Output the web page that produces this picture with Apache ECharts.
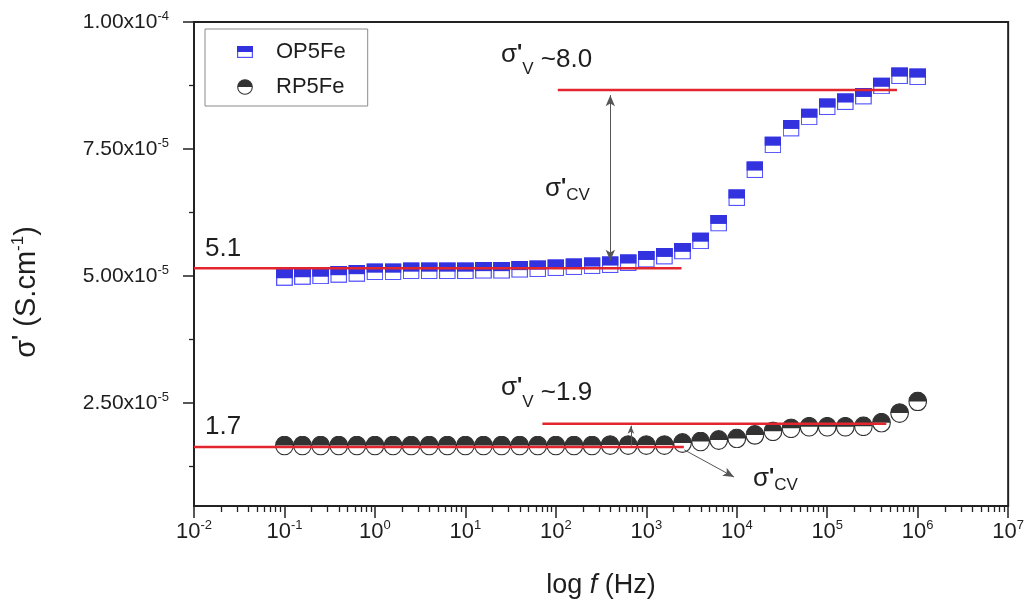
<!DOCTYPE html>
<html><head><meta charset="utf-8">
<script src="https://cdn.jsdelivr.net/npm/echarts@6/dist/echarts.min.js"></script>
<style>html,body{margin:0;padding:0;background:#fff}#c{width:1027px;height:609px}</style>
</head><body><div id="c"></div>
<script>
// ---------- data ----------
const freqHz = [0.1,0.158,0.251,0.398,0.631,1,1.585,2.512,3.981,6.31,10,15.85,25.12,39.81,63.1,100,158.5,251.2,398.1,631,1000,1585,2512,3981,6310,10000,15850,25120,39810,63100,100000,158500,251200,398100,631000,1000000];
const op5fe = [4.97e-5,4.99e-5,5.00e-5,5.03e-5,5.05e-5,5.08e-5,5.08e-5,5.10e-5,5.10e-5,5.10e-5,5.10e-5,5.11e-5,5.11e-5,5.13e-5,5.14e-5,5.16e-5,5.18e-5,5.20e-5,5.22e-5,5.26e-5,5.33e-5,5.39e-5,5.49e-5,5.69e-5,6.04e-5,6.54e-5,7.09e-5,7.58e-5,7.91e-5,8.13e-5,8.33e-5,8.43e-5,8.54e-5,8.74e-5,8.94e-5,8.92e-5];
const rp5fe = [1.66e-5,1.66e-5,1.66e-5,1.66e-5,1.66e-5,1.66e-5,1.66e-5,1.66e-5,1.66e-5,1.66e-5,1.66e-5,1.66e-5,1.66e-5,1.66e-5,1.66e-5,1.66e-5,1.66e-5,1.66e-5,1.67e-5,1.67e-5,1.67e-5,1.67e-5,1.71e-5,1.74e-5,1.77e-5,1.80e-5,1.87e-5,1.94e-5,2.00e-5,2.03e-5,2.03e-5,2.03e-5,2.04e-5,2.11e-5,2.30e-5,2.53e-5];
// red guide lines [fStart, fEnd, value]
const lineOP_dc = [0.01, 2450, 5.15e-5];
const lineOP_hf = [105, 590000, 8.66e-5];
const lineRP_dc = [0.01, 2600, 1.63e-5];
const lineRP_hf = [71, 450000, 2.09e-5];
// grey arrows [[f1, v1], [f2, v2]]
const arrowOP = [[400, 8.56e-5], [400, 5.30e-5]];
const arrowRP = [[676, 1.66e-5], [676, 2.05e-5]];
const arrowRPcv = [[2630, 1.575e-5], [9330, 1.04e-5]];
// axes
const xTickExp = [-2,-1,0,1,2,3,4,5,6,7];
const yTickValues = [2.5e-5, 5.0e-5, 7.5e-5, 1.0e-4];
const yTickLabels = [['2.50x10','-5'],['5.00x10','-5'],['7.50x10','-5'],['1.00x10','-4']];
const yMinorValues = [1.25e-5, 3.75e-5, 6.25e-5, 8.75e-5];
const minorMult = [2,3,4,5,6,7,8,9];

// ---------- helpers ----------
const L = Math.log10;
const FONT = '"Liberation Sans", Arial, Helvetica, sans-serif';
const TXT = '#1e1e1e';
const RED = '#e3262d';
const svgURL = s => 'image://data:image/svg+xml;charset=utf-8,' + encodeURIComponent(s);
const sqSym = svgURL('<svg xmlns="http://www.w3.org/2000/svg" width="68" height="68" viewBox="0 0 17 17"><rect x="0.7" y="0.7" width="15.6" height="15.6" fill="#ffffff" stroke="#2a2aff" stroke-width="1.3"/><rect x="0" y="0" width="17" height="9.3" fill="#0000d8"/></svg>');
const ciSym = svgURL('<svg xmlns="http://www.w3.org/2000/svg" width="80" height="80" viewBox="0 0 20 20"><circle cx="10" cy="10" r="9.3" fill="#ffffff" stroke="#000" stroke-width="1.2"/><path d="M0.7 10 A9.3 9.3 0 0 1 19.3 10 Z" fill="#000"/></svg>');
const sqLeg = svgURL('<svg xmlns="http://www.w3.org/2000/svg" width="64" height="64" viewBox="0 0 16 16"><rect x="0.6" y="2.6" width="14.8" height="10.8" fill="#ffffff" stroke="#2a2aff" stroke-width="1.2"/><rect x="0" y="2" width="16" height="6" fill="#0000d8"/></svg>');
const ciLeg = svgURL('<svg xmlns="http://www.w3.org/2000/svg" width="64" height="64" viewBox="0 0 16 16"><circle cx="8" cy="8" r="7.3" fill="#ffffff" stroke="#000" stroke-width="1.1"/><path d="M0.7 8 A7.3 7.3 0 0 1 15.3 8 Z" fill="#000"/></svg>');

const pts = (xs, ys) => xs.map((f, i) => [L(f), ys[i]]);
const hline = a => [[L(a[0]), a[2]], [L(a[1]), a[2]]];
const minorX = [];
for (let n = -2; n < 7; n++) minorMult.forEach(k => minorX.push(n + L(k)));

const annRich = {
  s: {fontSize: 26, lineHeight: 28, verticalAlign: 'top', fontFamily: FONT, color: TXT},
  p: {fontSize: 22, lineHeight: 26, verticalAlign: 'top', fontWeight: 'bold', fontFamily: FONT, color: TXT},
  v: {fontSize: 17, lineHeight: 20, verticalAlign: 'bottom', fontFamily: FONT, color: TXT},
  n: {fontSize: 26, lineHeight: 36, fontFamily: FONT, color: TXT}
};
function ann(x, y, text) {
  return {type: 'text', x: x, y: y, z: 50, style: {text: text, rich: annRich, align: 'left', verticalAlign: 'middle', fill: TXT, font: '26px ' + FONT}};
}
function plain(x, y, text) {
  return {type: 'text', x: x, y: y, z: 50, style: {text: text, align: 'left', verticalAlign: 'middle', fill: TXT, font: '26px ' + FONT}};
}

const chart = echarts.init(document.getElementById('c'), null, {renderer: 'canvas'});
const redLine = (a) => ({
  type: 'line', data: hline(a), symbol: 'none', showSymbol: false, silent: true, z: 4,
  lineStyle: {color: RED, width: 2.5}
});

const option = {
  animation: false,
  backgroundColor: '#ffffff',
  grid: {left: 194, right: 18, top: 22, bottom: 103, show: true, borderColor: '#222', borderWidth: 2, backgroundColor: 'transparent'},
  legend: {
    left: 205, top: 29, orient: 'vertical', itemWidth: 16, itemHeight: 16, itemGap: 13,
    padding: [12, 22, 8, 32], borderColor: '#8a8a8a', borderWidth: 1, backgroundColor: '#fff',
    selectedMode: false,
    textStyle: {fontSize: 22, fontFamily: FONT, color: TXT, padding: [0, 0, 0, 18]},
    data: [{name: 'OP5Fe', icon: sqLeg}, {name: 'RP5Fe', icon: ciLeg}]
  },
  xAxis: [{
    type: 'value', min: -2, max: 7, interval: 1,
    axisLine: {onZero: false, lineStyle: {color: '#222', width: 2}},
    axisTick: {length: 12, lineStyle: {color: '#222', width: 1.5}},
    splitLine: {show: false},
    axisLabel: {
      margin: 13, color: TXT,
      formatter: v => xTickExp.indexOf(v) >= 0 ? '{b|10}{s|' + v + '}' : '',
      rich: {b: {fontSize: 22, fontFamily: FONT, color: TXT, lineHeight: 25}, s: {fontSize: 13, fontFamily: FONT, color: TXT, verticalAlign: 'top', lineHeight: 14}}
    },
    name: '{a|log }{i|f}{a| (Hz)}', nameLocation: 'middle', nameGap: 66,
    nameTextStyle: {rich: {a: {fontSize: 27, fontFamily: FONT, color: TXT}, i: {fontSize: 27, fontFamily: FONT, fontStyle: 'italic', color: TXT}}}
  }, {
    type: 'value', min: -2, max: 7, position: 'bottom', gridIndex: 0,
    axisLine: {show: false, onZero: false}, axisLabel: {show: false}, splitLine: {show: false},
    axisTick: {show: true, customValues: minorX, length: 6, lineStyle: {color: '#222', width: 1.3}}
  }],
  yAxis: [{
    type: 'value', min: 0.47e-5, max: 1.0e-4,
    axisLine: {onZero: false, lineStyle: {color: '#222', width: 2}},
    axisTick: {customValues: yTickValues, length: 11, lineStyle: {color: '#222', width: 1.5}},
    splitLine: {show: false},
    axisLabel: {
      customValues: yTickValues, margin: 25, color: TXT,
      formatter: v => {
        let best = 0;
        yTickValues.forEach((t, i) => { if (Math.abs(t - v) < Math.abs(yTickValues[best] - v)) best = i; });
        return '{b|' + yTickLabels[best][0] + '}{s|' + yTickLabels[best][1] + '}';
      },
      rich: {b: {fontSize: 21, fontFamily: FONT, color: TXT, lineHeight: 24}, s: {fontSize: 13, fontFamily: FONT, color: TXT, verticalAlign: 'top', lineHeight: 13}}
    },
    name: '{a|σ}{p|\'}{a| (S.cm}{s|-1}{a|)}', nameLocation: 'middle', nameGap: 150, nameRotate: 90,
    nameTextStyle: {padding: [0, 56, 0, 0], rich: {
      a: {fontSize: 29, fontFamily: FONT, color: TXT, lineHeight: 34},
      p: {fontSize: 22, fontFamily: FONT, color: TXT, fontWeight: 'bold', verticalAlign: 'top', lineHeight: 26},
      s: {fontSize: 17, fontFamily: FONT, color: TXT, verticalAlign: 'top', lineHeight: 18}
    }}
  }, {
    type: 'value', min: 0.47e-5, max: 1.0e-4, position: 'left', gridIndex: 0,
    axisLine: {show: false, onZero: false}, axisLabel: {show: false}, splitLine: {show: false},
    axisTick: {show: true, customValues: yMinorValues, length: 5, lineStyle: {color: '#222', width: 1.3}}
  }],
  series: [
    {name: 'OP5Fe', type: 'scatter', data: pts(freqHz, op5fe), symbol: sqSym, symbolSize: [17, 17], z: 3, silent: true},
    {name: 'RP5Fe', type: 'scatter', data: pts(freqHz, rp5fe), symbol: ciSym, symbolSize: [19, 20], z: 3, silent: true},
    Object.assign(redLine(lineOP_dc), {
      markLine: {
        silent: true, animation: false, symbol: ['arrow', 'arrow'], symbolSize: [7, 11],
        lineStyle: {color: '#555', width: 1, type: 'solid'}, label: {show: false}, emphasis: {disabled: true},
        data: [
          [{coord: [L(arrowOP[0][0]), arrowOP[0][1]]}, {coord: [L(arrowOP[1][0]), arrowOP[1][1]]}],
          [{coord: [L(arrowRP[0][0]), arrowRP[0][1]], symbol: 'none'}, {coord: [L(arrowRP[1][0]), arrowRP[1][1]], symbol: 'arrow', symbolSize: [5, 8]}],
          [{coord: [L(arrowRPcv[0][0]), arrowRPcv[0][1]], symbol: 'none'}, {coord: [L(arrowRPcv[1][0]), arrowRPcv[1][1]], symbol: 'arrow', symbolSize: [7, 11]}]
        ]
      }
    }),
    redLine(lineOP_hf),
    redLine(lineRP_dc),
    redLine(lineRP_hf)
  ],
  graphic: [
    ann(501, 60, '{s|σ}{p|\'}{v|V}{n| ~8.0}'),
    ann(545, 190, '{s|σ}{p|\'}{v|CV}'),
    ann(501, 393, '{s|σ}{p|\'}{v|V}{n| ~1.9}'),
    ann(753, 480, '{s|σ}{p|\'}{v|CV}'),
    plain(205, 249, '5.1'),
    plain(205, 427, '1.7')
  ]
};
chart.setOption(option);
</script>
</body></html>
